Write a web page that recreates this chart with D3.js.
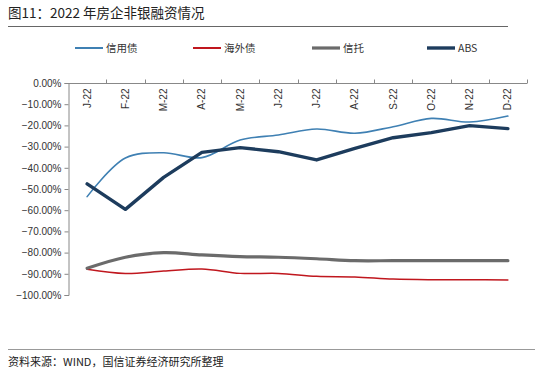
<!DOCTYPE html>
<html><head><meta charset="utf-8">
<script src="https://cdn.jsdelivr.net/npm/d3@7"></script>
<style>
html,body{margin:0;padding:0;background:#fff;}
svg{display:block;font-family:"Liberation Sans","Noto Sans CJK SC",sans-serif;}
</style></head>
<body><svg id="c" width="550" height="377"></svg>
<script>
const categories = ["J-22","F-22","M-22","A-22","M-22","J-22","J-22","A-22","S-22","O-22","N-22","D-22"];
const creditBond = [-53.6,-35.4,-32.9,-35.2,-26.9,-24.5,-21.7,-23.7,-20.6,-16.7,-18.4,-15.6];
const overseasBond = [-87.9,-89.9,-88.7,-87.7,-89.8,-89.8,-91.2,-91.5,-92.5,-92.8,-92.8,-92.9];
const trust = [-87.4,-82.2,-80.0,-81.1,-81.9,-82.2,-82.9,-83.8,-83.8,-83.8,-83.8,-83.8];
const abs = [-47.6,-59.6,-44.5,-32.7,-30.5,-32.4,-36.3,-30.8,-25.8,-23.4,-20.1,-21.5];
const yTicks = [0,-10,-20,-30,-40,-50,-60,-70,-80,-90,-100];
const seriesNames = ["信用债","海外债","信托","ABS"];

const series = [
  {name:seriesNames[0], values:creditBond, color:"#3f80b3", width:1.6, smooth:true, lx:75},
  {name:seriesNames[1], values:overseasBond, color:"#c0171e", width:1.5, smooth:true, lx:193},
  {name:seriesNames[2], values:trust, color:"#6b6b6b", width:3.2, smooth:true, lx:312},
  {name:seriesNames[3], values:abs, color:"#1d3c5d", width:3.4, smooth:false, lx:427}
];

const svg = d3.select("#c");
// Title
svg.append("text").attr("x",8).attr("y",18).attr("font-size",13.5).attr("fill","#222")
  .attr("font-family","'Noto Sans CJK SC',sans-serif").text("图11：2022 年房企非银融资情况");
svg.append("line").attr("x1",8).attr("x2",508).attr("y1",26.5).attr("y2",26.5).attr("stroke","#666").attr("stroke-width",1);
// Source
svg.append("line").attr("x1",8).attr("x2",535).attr("y1",349.5).attr("y2",349.5).attr("stroke","#999").attr("stroke-width",1);
svg.append("text").attr("x",8).attr("y",366).attr("font-size",11).attr("fill","#222")
  .attr("font-family","'Noto Sans CJK SC',sans-serif").text("资料来源：WIND，国信证券经济研究所整理");

const x = d3.scaleBand().domain(d3.range(categories.length)).range([68,527]);
const y = d3.scaleLinear().domain([-100,0]).range([295,83]);

// Y axis
const ya = svg.append("g").attr("transform","translate(68.5,0)")
  .call(d3.axisLeft(y).tickValues(yTicks).tickSize(4).tickFormat(d=>d3.format(".2f")(d)+"%"));
ya.select(".domain").attr("stroke","#888");
ya.selectAll(".tick line").attr("stroke","#888");
ya.selectAll("text").attr("font-size",10).attr("fill","#333").attr("font-family","'Liberation Sans',sans-serif").attr("x",-7);

// X axis at top (y=0)
const xa = svg.append("g").attr("transform","translate(0,"+(y(0)+0.5)+")");
xa.append("line").attr("x1",68).attr("x2",527).attr("stroke","#888");
const bounds = d3.range(categories.length+1).map(i=> i<categories.length ? x(i) : x(categories.length-1)+x.bandwidth());
xa.selectAll("line.tk").data(bounds.slice(1)).enter().append("line").attr("class","tk")
  .attr("x1",d=>Math.round(d)+0.5).attr("x2",d=>Math.round(d)+0.5).attr("y1",-4).attr("y2",0).attr("stroke","#888");
xa.selectAll("text").data(categories).enter().append("text")
  .attr("transform",(d,i)=>"translate("+(x(i)+x.bandwidth()/2+3.5)+",5) rotate(-90)")
  .attr("text-anchor","end").attr("font-size",10).attr("fill","#333")
  .attr("font-family","'Liberation Sans',sans-serif").text(d=>d);

// Lines
series.forEach(s=>{
  const line = d3.line().x((d,i)=>x(i)+x.bandwidth()/2).y(d=>y(d))
    .curve(s.smooth ? d3.curveCatmullRom.alpha(0.5) : d3.curveLinear);
  svg.append("path").datum(s.values).attr("d",line).attr("fill","none")
    .attr("stroke",s.color).attr("stroke-width",s.width).attr("stroke-linejoin","round").attr("stroke-linecap","round");
});

// Legend
series.forEach(s=>{
  svg.append("line").attr("x1",s.lx).attr("x2",s.lx+28).attr("y1",48).attr("y2",48)
    .attr("stroke",s.color).attr("stroke-width",Math.max(2,s.width));
  svg.append("text").attr("x",s.lx+31).attr("y",52).attr("font-size",10.5).attr("fill","#333")
    .attr("font-family","'Noto Sans CJK SC',sans-serif").text(s.name);
});
</script></body></html>
